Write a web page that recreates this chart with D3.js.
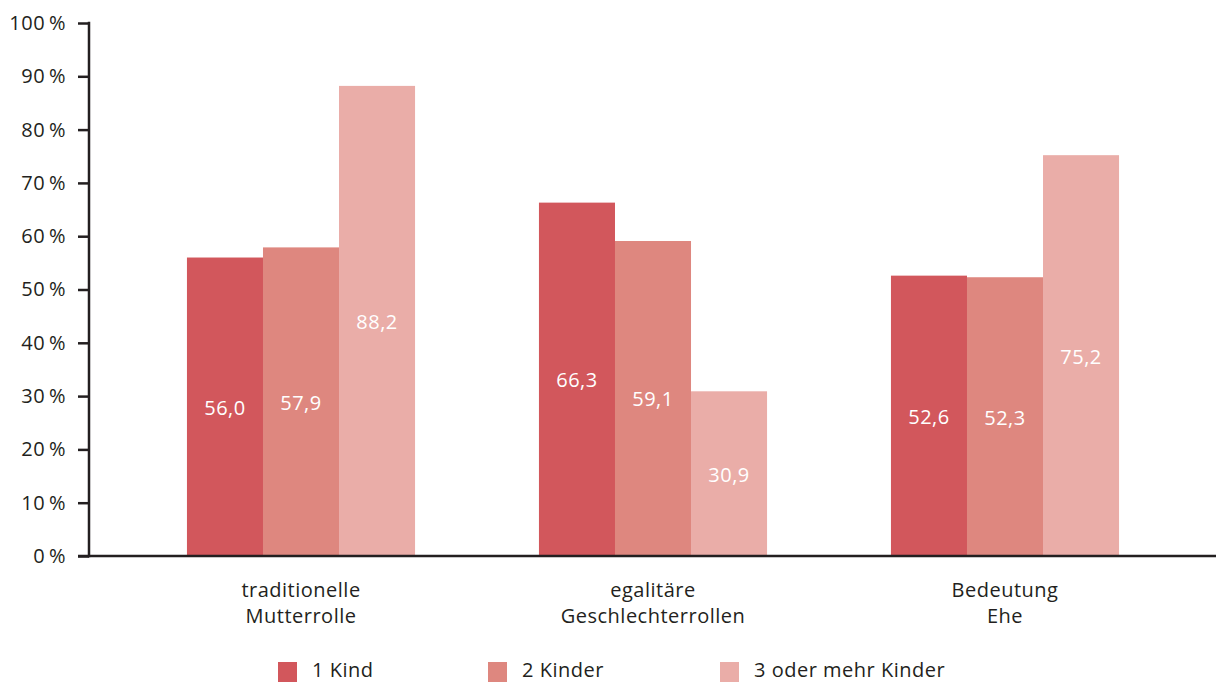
<!DOCTYPE html>
<meta charset="utf-8">
<style>
  body { margin: 0; background: #fff; }
  text { font-family: "Open Sans", Lato, sans-serif; letter-spacing: 0.5px; }
</style>
<body>
<script src="https://cdn.jsdelivr.net/npm/d3@7"></script>
<script>

    var width = 1216,
        height = 683;

    // data
    var categories = [["traditionelle", "Mutterrolle"], ["egalitäre", "Geschlechterrollen"], ["Bedeutung", "Ehe"]];
    var seriesNames = ["1 Kind", "2 Kinder", "3 oder mehr Kinder"];
    var kind1 = [56.0, 66.3, 52.6];
    var kinder2 = [57.9, 59.1, 52.3];
    var kinder3 = [88.2, 30.9, 75.2];
    var yTicks = [0, 10, 20, 30, 40, 50, 60, 70, 80, 90, 100];
    var colors = ["#d2575c", "#de877f", "#eaada8"];

    var series = [kind1, kinder2, kinder3];

    var svg = d3.select("body").append("svg")
            .attr("width", width)
            .attr("height", height);

    var axisX = 89, baseY = 556;

    var y = d3.scaleLinear().domain([0, 100]).range([baseY, 23]);

    var x0 = d3.scaleBand()
            .domain(d3.range(categories.length))
            .range([125, 1181])
            .paddingInner(0.352)
            .paddingOuter(0.176);

    var x1 = d3.scaleBand()
            .domain(d3.range(series.length))
            .range([0, x0.bandwidth()]);

    var fmt = function(v) { return d3.format(".1f")(v).replace(".", ","); };

    // bars
    var groups = svg.selectAll("g.grp")
            .data(categories)
            .enter().append("g")
            .attr("class", "grp")
            .attr("transform", function(d, i) { return "translate(" + x0(i) + ",0)"; });

    groups.each(function(c, i) {
        var g = d3.select(this);
        series.forEach(function(s, j) {
            g.append("rect")
                .attr("x", x1(j))
                .attr("y", y(s[i]))
                .attr("width", x1.bandwidth())
                .attr("height", baseY - y(s[i]))
                .attr("fill", colors[j]);
            g.append("text")
                .attr("x", x1(j) + x1.bandwidth() / 2)
                .attr("y", (y(s[i]) + baseY) / 2 + 8)
                .attr("text-anchor", "middle")
                .attr("fill", "#fff")
                .style("font-size", "20px")
                .text(fmt(s[i]));
        });
    });

    // y axis
    var yAxis = d3.axisLeft(y)
            .tickValues(yTicks)
            .tickSize(11)
            .tickPadding(12)
            .tickFormat(function(d) { return d + "\u2009%"; });

    var ya = svg.append("g")
            .attr("transform", "translate(" + axisX + ",0)")
            .call(yAxis);
    ya.select(".domain").remove();
    ya.selectAll(".tick line").attr("stroke", "#231f20").attr("stroke-width", 2.5);
    ya.selectAll(".tick text")
            .attr("fill", "#231f20")
            .style("font-size", "20px")
            .style("font-family", "'Open Sans', Lato, sans-serif");

    svg.append("line")
            .attr("x1", axisX).attr("x2", axisX)
            .attr("y1", y(100) - 1.2).attr("y2", baseY + 1.2)
            .attr("stroke", "#231f20").attr("stroke-width", 2.5);

    svg.append("line")
            .attr("x1", axisX - 11).attr("x2", width)
            .attr("y1", baseY).attr("y2", baseY)
            .attr("stroke", "#231f20").attr("stroke-width", 2.5);

    // category labels
    categories.forEach(function(c, i) {
        var t = svg.append("text")
                .attr("x", x0(i) + x0.bandwidth() / 2)
                .attr("y", 597)
                .attr("text-anchor", "middle")
                .attr("fill", "#231f20")
                .style("font-size", "20px");
        c.forEach(function(line, k) {
            t.append("tspan")
                .attr("x", x0(i) + x0.bandwidth() / 2)
                .attr("dy", k === 0 ? 0 : 26)
                .text(line);
        });
    });

    // legend
    var legendX = [278, 488, 720];
    seriesNames.forEach(function(name, j) {
        svg.append("rect")
            .attr("x", legendX[j]).attr("y", 662)
            .attr("width", 19).attr("height", 20)
            .attr("fill", colors[j]);
        svg.append("text")
            .attr("x", legendX[j] + 34).attr("y", 677)
            .attr("fill", "#231f20")
            .style("font-size", "20px")
            .text(name);
    });

</script>
